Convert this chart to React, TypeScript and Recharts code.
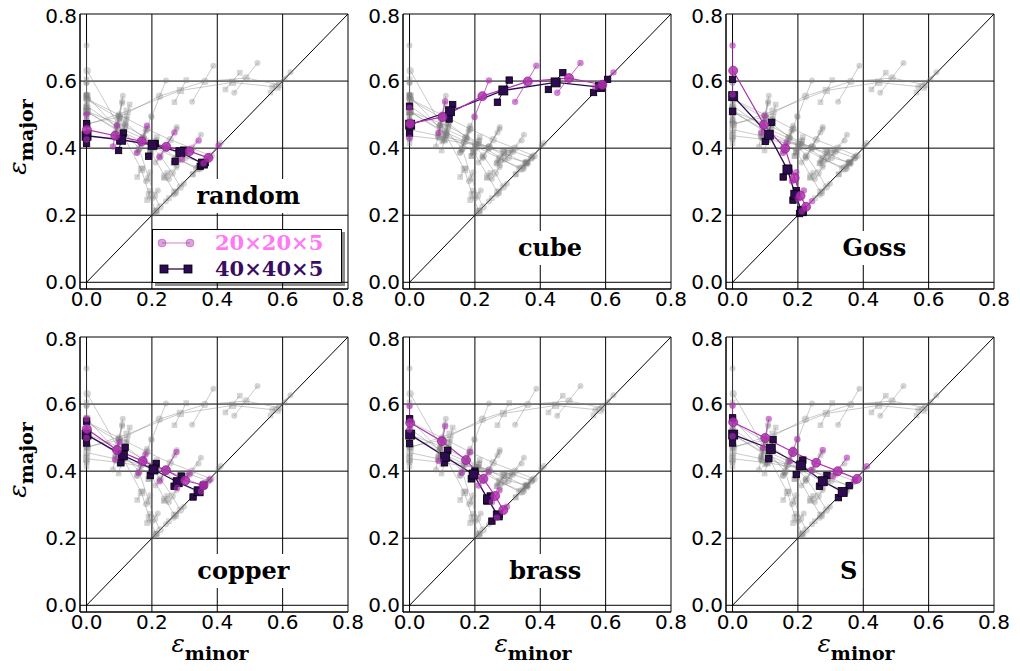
import React from "react";
import {
  ComposedChart,
  Line,
  XAxis,
  YAxis,
  CartesianGrid,
  ReferenceLine,
} from "recharts";

type Pt = [number, number];
// whisker: [xHigh, yHigh, xLow, yLow]
type Whisk = [number, number, number, number];

const TICKS = [0, 0.2, 0.4, 0.6, 0.8];

// random
const random20: Pt[] = [[0.001, 0.455], [0.088, 0.437], [0.169, 0.42], [0.244, 0.404], [0.315, 0.391], [0.373, 0.371]];
const random20Whisk: Whisk[] = [[0, 0.5, 0, 0.426], [0.093, 0.467, 0.081, 0.405], [0.185, 0.467, 0.154, 0.386], [0.269, 0.447, 0.223, 0.374], [0.343, 0.423, 0.292, 0.366], [0.404, 0.408, 0.358, 0.355]];
const random40: Pt[] = [[0, 0.437], [0.106, 0.425], [0.202, 0.41], [0.287, 0.388], [0.356, 0.354]];
const random40Whisk: Whisk[] = [[0, 0.473, 0, 0.414], [0.113, 0.445, 0.098, 0.393], [0.21, 0.413, 0.19, 0.376], [0.297, 0.394, 0.271, 0.361], [0.363, 0.357, 0.348, 0.346]];

// cube
const cube20: Pt[] = [[0.002, 0.473], [0.101, 0.493], [0.223, 0.555], [0.362, 0.599], [0.488, 0.609], [0.59, 0.589]];
const cube20Whisk: Whisk[] = [[0, 0.52, 0, 0.43], [0.109, 0.54, 0.089, 0.445], [0.243, 0.602, 0.199, 0.493], [0.388, 0.646, 0.323, 0.538], [0.523, 0.654, 0.452, 0.565], [0.624, 0.626, 0.568, 0.582]];
const cube40: Pt[] = [[0.002, 0.47], [0.124, 0.51], [0.287, 0.572], [0.447, 0.596], [0.583, 0.582]];
const cube40Whisk: Whisk[] = [[0, 0.525, 0, 0.445], [0.132, 0.53, 0.121, 0.487], [0.305, 0.603, 0.269, 0.537], [0.469, 0.625, 0.425, 0.575], [0.606, 0.605, 0.563, 0.566]];

// Goss
const goss20: Pt[] = [[0.002, 0.631], [0.096, 0.47], [0.161, 0.399], [0.19, 0.311], [0.208, 0.258], [0.225, 0.225]];
const goss20Whisk: Whisk[] = [[0, 0.706, 0, 0.56], [0.098, 0.497, 0.088, 0.447], [0.165, 0.415, 0.155, 0.386], [0.195, 0.328, 0.182, 0.301], [0.218, 0.274, 0.2, 0.249], [0.243, 0.242, 0.212, 0.212]];
const goss40: Pt[] = [[0.002, 0.555], [0.111, 0.44], [0.168, 0.336], [0.192, 0.261], [0.212, 0.212]];
const goss40Whisk: Whisk[] = [[0, 0.605, 0, 0.51], [0.12, 0.477, 0.1, 0.42], [0.17, 0.34, 0.155, 0.314], [0.195, 0.273, 0.185, 0.245], [0.215, 0.214, 0.205, 0.205]];

// copper
const copper20: Pt[] = [[0.001, 0.526], [0.093, 0.463], [0.172, 0.43], [0.243, 0.403], [0.302, 0.372], [0.358, 0.358]];
const copper20Whisk: Whisk[] = [[0, 0.556, 0, 0.499], [0.101, 0.486, 0.088, 0.435], [0.18, 0.45, 0.159, 0.395], [0.275, 0.457, 0.224, 0.37], [0.315, 0.393, 0.277, 0.35], [0.377, 0.375, 0.35, 0.34]];
const copper40: Pt[] = [[0, 0.509], [0.111, 0.447], [0.205, 0.405], [0.279, 0.367], [0.343, 0.34]];
const copper40Whisk: Whisk[] = [[0, 0.549, 0, 0.484], [0.118, 0.471, 0.105, 0.425], [0.213, 0.423, 0.195, 0.387], [0.29, 0.385, 0.268, 0.355], [0.358, 0.358, 0.326, 0.323]];

// brass
const brass20: Pt[] = [[0.002, 0.544], [0.099, 0.489], [0.173, 0.433], [0.226, 0.377], [0.262, 0.326], [0.287, 0.284]];
const brass20Whisk: Whisk[] = [[0, 0.594, 0, 0.524], [0.109, 0.534, 0.089, 0.43], [0.185, 0.457, 0.16, 0.395], [0.242, 0.397, 0.211, 0.357], [0.275, 0.343, 0.252, 0.308], [0.298, 0.294, 0.267, 0.261]];
const brass40: Pt[] = [[0.002, 0.509], [0.109, 0.443], [0.196, 0.39], [0.24, 0.316], [0.27, 0.268]];
const brass40Whisk: Whisk[] = [[0, 0.556, 0, 0.482], [0.117, 0.462, 0.107, 0.425], [0.2, 0.4, 0.189, 0.377], [0.247, 0.326, 0.237, 0.311], [0.274, 0.271, 0.252, 0.251]];

// S
const s20: Pt[] = [[0.002, 0.546], [0.1, 0.499], [0.185, 0.457], [0.256, 0.425], [0.322, 0.4], [0.381, 0.377]];
const s20Whisk: Whisk[] = [[0, 0.596, 0, 0.504], [0.111, 0.556, 0.093, 0.469], [0.198, 0.496, 0.175, 0.43], [0.276, 0.463, 0.241, 0.403], [0.35, 0.44, 0.307, 0.385], [0.411, 0.415, 0.373, 0.37]];
const s40: Pt[] = [[0.002, 0.509], [0.117, 0.466], [0.21, 0.417], [0.276, 0.37], [0.337, 0.338]];
const s40Whisk: Whisk[] = [[0, 0.559, 0, 0.484], [0.124, 0.494, 0.111, 0.437], [0.215, 0.433, 0.195, 0.39], [0.289, 0.387, 0.266, 0.355], [0.357, 0.357, 0.324, 0.321]];

const textures = [
  { name: "random", m20: random20, w20: random20Whisk, m40: random40, w40: random40Whisk, label: [0.495, 0.258] },
  { name: "cube", m20: cube20, w20: cube20Whisk, m40: cube40, w40: cube40Whisk, label: [0.43, 0.103] },
  { name: "Goss", m20: goss20, w20: goss20Whisk, m40: goss40, w40: goss40Whisk, label: [0.434, 0.103] },
  { name: "copper", m20: copper20, w20: copper20Whisk, m40: copper40, w40: copper40Whisk, label: [0.48, 0.101] },
  { name: "brass", m20: brass20, w20: brass20Whisk, m40: brass40, w40: brass40Whisk, label: [0.415, 0.101] },
  { name: "S", m20: s20, w20: s20Whisk, m40: s40, w40: s40Whisk, label: [0.355, 0.101] },
];

const COLS = [80, 403, 726];
const ROWS = [14, 337];
const PW = 268;
const PH = 275;
const XMIN = -0.02;
const XMAX = 0.8;

const C20 = "#b030b0";
const C40 = "#2e0a52";
const GRAY = "#7a7a7a";

const mainData = (pts: Pt[]) => pts.map(([x, y]) => ({ x, y }));
const whiskData = (w: Whisk[]) =>
  w.flatMap(([a, b, c, d]) => [
    { x: a, y: b },
    { x: c, y: d },
    { x: c, y: null as number | null },
  ]);

const makeDot =
  (shape: "circle" | "square", size: number, fill: string, fillOpacity: number, stroke: string) =>
  (props: any) => {
    const { cx, cy, index, payload } = props;
    if (cx == null || cy == null || payload?.y == null || isNaN(cy)) return <g key={`e${index}`} />;
    if (shape === "circle")
      return (
        <circle key={`c${index}`} cx={cx} cy={cy} r={size} fill={fill} fillOpacity={fillOpacity} stroke={stroke} strokeWidth={0.7} />
      );
    return (
      <rect key={`r${index}`} x={cx - size} y={cy - size} width={size * 2} height={size * 2} fill={fill} fillOpacity={fillOpacity} stroke={stroke} strokeWidth={0.8} />
    );
  };

const fmt = (v: number) => v.toFixed(1);
const tickStyle = { fill: "#000", fontSize: 20, fontFamily: "DejaVu Sans" };

function grayLines(t: (typeof textures)[number], key: string) {
  const common = { dataKey: "y", stroke: GRAY, strokeOpacity: 0.5, strokeWidth: 0.8, activeDot: false as const, isAnimationActive: false, connectNulls: false, type: "linear" as const };
  return [
    <Line key={key + "w40"} {...common} data={whiskData(t.w40)} dot={makeDot("square", 2.8, GRAY, 0.32, "none")} />,
    <Line key={key + "m40"} {...common} data={mainData(t.m40)} dot={makeDot("square", 3.6, GRAY, 0.32, "none")} />,
    <Line key={key + "w20"} {...common} data={whiskData(t.w20)} dot={makeDot("circle", 3, GRAY, 0.32, "none")} />,
    <Line key={key + "m20"} {...common} data={mainData(t.m20)} dot={makeDot("circle", 3.7, GRAY, 0.32, "none")} />,
  ];
}

function Panel({ idx }: { idx: number }) {
  const t = textures[idx];
  const left = COLS[idx % 3];
  const top = ROWS[Math.floor(idx / 3)];
  const lx = left + ((t.label[0] - XMIN) / (XMAX - XMIN)) * PW;
  const ly = top + ((XMAX - t.label[1]) / (XMAX - XMIN)) * PH;
  const base = { dataKey: "y", activeDot: false as const, isAnimationActive: false, connectNulls: false, type: "linear" as const };
  return (
    <>
      <div style={{ position: "absolute", left: left - 60, top: top - 10 }}>
        <ComposedChart width={PW + 80} height={PH + 40} margin={{ top: 10, right: 20, bottom: 0, left: 0 }}>
          <CartesianGrid stroke="#000" strokeWidth={1} />
          <XAxis
            type="number"
            dataKey="x"
            domain={[XMIN, XMAX]}
            ticks={TICKS}
            allowDataOverflow
            height={30}
            tickFormatter={fmt}
            tick={tickStyle}
            tickLine={false}
            tickSize={0}
            tickMargin={3}
            axisLine={{ stroke: "#000" }}
          />
          <YAxis
            type="number"
            domain={[XMIN, XMAX]}
            ticks={TICKS}
            allowDataOverflow
            width={60}
            tickFormatter={fmt}
            tick={tickStyle}
            tickLine={false}
            tickSize={0}
            tickMargin={3}
            axisLine={{ stroke: "#000" }}
          />
          <ReferenceLine segment={[{ x: 0, y: 0 }, { x: 0.8, y: 0.8 }]} stroke="#000" strokeWidth={1} />
          {textures.filter((_, j) => j !== idx).flatMap((o) => grayLines(o, o.name))}
          <Line {...base} data={whiskData(t.w40)} stroke={C40} strokeWidth={1} dot={makeDot("square", 3.2, C40, 1, "#000")} />
          <Line {...base} data={mainData(t.m40)} stroke={C40} strokeWidth={1.3} dot={makeDot("square", 4.5, C40, 1, "#000")} />
          <Line {...base} data={whiskData(t.w20)} stroke={C20} strokeOpacity={0.75} strokeWidth={1} dot={makeDot("circle", 3.2, C20, 0.6, "none")} />
          <Line {...base} data={mainData(t.m20)} stroke={C20} strokeWidth={1.2} dot={makeDot("circle", 4.5, C20, 0.85, "#8a208a")} />
        </ComposedChart>
      </div>
      <div
        style={{
          position: "absolute",
          left: lx,
          top: ly,
          transform: "translate(-50%, -50%)",
          background: "#fff",
          padding: "0 5px",
          lineHeight: "34px",
          fontFamily: "DejaVu Serif",
          fontWeight: "bold",
          fontSize: 24,
          color: "#000",
          whiteSpace: "nowrap",
        }}
      >
        {t.name}
      </div>
    </>
  );
}

function Legend20x() {
  return (
    <div
      style={{
        position: "absolute",
        left: 152,
        top: 229,
        width: 188,
        height: 52,
        background: "#fff",
        border: "1px solid #000",
        boxShadow: "3px 3px 0 rgba(0,0,0,0.45)",
        fontFamily: "DejaVu Serif",
        fontWeight: "bold",
        fontSize: 21,
      }}
    >
      <svg width={44} height={52} style={{ position: "absolute", left: 0, top: 0 }}>
        <line x1={9} y1={13} x2={37} y2={13} stroke={C20} strokeOpacity={0.5} strokeWidth={1.2} />
        <circle cx={9} cy={13} r={4} fill={C20} fillOpacity={0.45} stroke={C20} strokeOpacity={0.4} />
        <circle cx={37} cy={13} r={4} fill={C20} fillOpacity={0.45} stroke={C20} strokeOpacity={0.4} />
        <line x1={11} y1={39} x2={35} y2={39} stroke={C40} strokeWidth={1.3} />
        <rect x={7} y={35} width={8} height={8} fill={C40} stroke="#000" strokeWidth={0.8} />
        <rect x={31} y={35} width={8} height={8} fill={C40} stroke="#000" strokeWidth={0.8} />
      </svg>
      <div style={{ position: "absolute", left: 62, top: 0, lineHeight: "26px", color: "#ff78f5" }}>20×20×5</div>
      <div style={{ position: "absolute", left: 62, top: 26, lineHeight: "26px", color: "#3a0c62" }}>40×40×5</div>
    </div>
  );
}

function YLabel({ top }: { top: number }) {
  return (
    <svg width={50} height={PH} style={{ position: "absolute", left: 0, top }}>
      <text transform="translate(26,123) rotate(-90)" textAnchor="middle" fill="#000">
        <tspan fontFamily="DejaVu Serif" fontStyle="italic" fontSize={25}>ε</tspan>
        <tspan fontFamily="DejaVu Serif" fontWeight="bold" fontSize={19} dy={7}>major</tspan>
      </text>
    </svg>
  );
}

function XLabel({ left }: { left: number }) {
  return (
    <svg width={PW} height={41} style={{ position: "absolute", left, top: 630 }}>
      <text x={PW / 2 - 4} y={22} textAnchor="middle" fill="#000">
        <tspan fontFamily="DejaVu Serif" fontStyle="italic" fontSize={25}>ε</tspan>
        <tspan fontFamily="DejaVu Serif" fontWeight="bold" fontSize={19} dy={8}>minor</tspan>
      </text>
    </svg>
  );
}

export default function App() {
  return (
    <div style={{ position: "absolute", left: 0, top: 0, width: 1020, height: 671, background: "#fff", overflow: "hidden" }}>
      {textures.map((_, i) => (
        <Panel key={i} idx={i} />
      ))}
      <Legend20x />
      <YLabel top={ROWS[0]} />
      <YLabel top={ROWS[1]} />
      {COLS.map((c) => (
        <XLabel key={c} left={c} />
      ))}
    </div>
  );
}
